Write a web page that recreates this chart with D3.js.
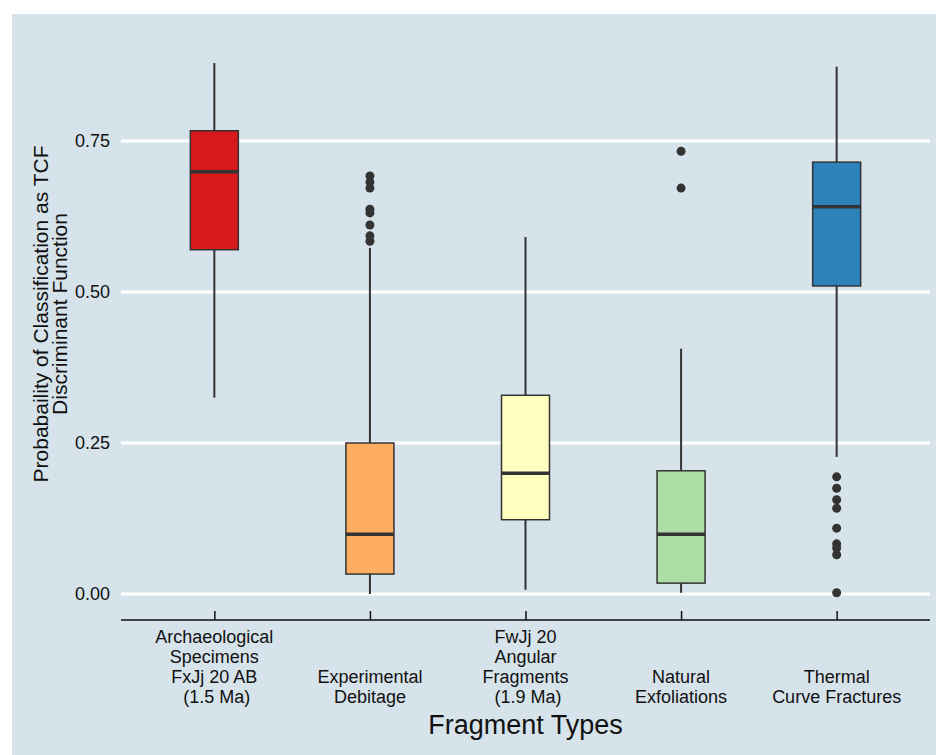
<!DOCTYPE html>
<html>
<head>
<meta charset="utf-8">
<script src="https://cdn.jsdelivr.net/npm/d3@7"></script>
<style>
  body { margin: 0; background: #fff; }
  text { font-family: "Liberation Sans", Arial, sans-serif; }
</style>
</head>
<body>
<div id="chart"></div>
<script>
'use strict';

const categories = ["arch", "exp", "fwjj", "nat", "tcf"];
const labelLines = [
    ["Archaeological", "Specimens", "FxJj 20 AB", " (1.5 Ma)"],
    ["Experimental", "Debitage"],
    ["FwJj 20", "Angular", "Fragments", " (1.9 Ma)"],
    ["Natural", "Exfoliations"],
    ["Thermal", "Curve Fractures"]
];
const colors = ["#d7191c", "#fdae61", "#ffffbf", "#abdda4", "#2b83ba"];

// box stats
const whiskerLow = [0.325, 0.0, 0.007, 0.002, 0.227];
const q1 = [0.570, 0.033, 0.123, 0.018, 0.510];
const median = [0.699, 0.099, 0.200, 0.099, 0.641];
const q3 = [0.767, 0.250, 0.329, 0.204, 0.715];
const whiskerHigh = [0.879, 0.573, 0.591, 0.406, 0.873];

const outliers = [
    [],
    [0.692, 0.682, 0.672, 0.637, 0.631, 0.611, 0.593, 0.584],
    [],
    [0.733, 0.672],
    [0.194, 0.175, 0.156, 0.142, 0.109, 0.083, 0.076, 0.065, 0.002]
];

const yTicks = [0, 0.25, 0.5, 0.75];

const width = 936;
const height = 755;
const plot = { left: 121, right: 930, axisY: 620 };

const svg = d3.select("#chart")
    .append("svg")
    .attr("width", width)
    .attr("height", height);

svg.append("rect")
    .attr("x", 12).attr("y", 14)
    .attr("width", width - 12).attr("height", height - 14)
    .attr("fill", "#d6e3ea");

const x = d3.scalePoint()
    .domain(categories)
    .range([plot.left, plot.right])
    .padding(0.6);

const y = d3.scaleLinear()
    .domain([0, 0.75])
    .range([594, 141]);

// grid lines
svg.append("g")
    .selectAll("line")
    .data(yTicks)
    .join("line")
    .attr("x1", plot.left).attr("x2", plot.right)
    .attr("y1", d => y(d)).attr("y2", d => y(d))
    .attr("stroke", "#fff")
    .attr("stroke-width", 3);

// y tick labels
svg.append("g")
    .selectAll("text")
    .data(yTicks)
    .join("text")
    .attr("x", 110)
    .attr("y", d => y(d))
    .attr("dy", "0.35em")
    .attr("text-anchor", "end")
    .attr("font-size", 18)
    .attr("fill", "#111")
    .text(d => d3.format(".2f")(d));

// y title
const yTitle = svg.append("text")
    .attr("transform", "translate(0,314) rotate(-90)")
    .attr("text-anchor", "middle")
    .attr("font-size", 21)
    .attr("fill", "#111");
yTitle.append("tspan").attr("x", 0).attr("y", 48).text("Probabaility of Classification as TCF");
yTitle.append("tspan").attr("x", 0).attr("y", 67).text("Discriminant Function");

// x axis
const xAxis = svg.append("g")
    .attr("transform", `translate(0,${plot.axisY})`)
    .call(d3.axisBottom(x).tickSize(-9).tickFormat(""));
xAxis.select(".domain")
    .attr("d", `M${plot.left},0H${plot.right}`)
    .attr("stroke", "#111")
    .attr("stroke-width", 1.5);
xAxis.selectAll(".tick line").attr("stroke", "#111").attr("stroke-width", 1.5);

// category labels (bottom aligned)
const catLabels = svg.append("g")
    .selectAll("text")
    .data(categories)
    .join("text")
    .attr("text-anchor", "middle")
    .attr("font-size", 18)
    .attr("fill", "#111")
    .style("white-space", "pre");
catLabels.each(function (d, i) {
    const lines = labelLines[i];
    const sel = d3.select(this);
    lines.forEach((line, j) => {
        sel.append("tspan")
            .attr("x", x(d))
            .attr("y", 703 - (lines.length - 1 - j) * 20)
            .text(line);
    });
});

svg.append("text")
    .attr("x", (plot.left + plot.right) / 2)
    .attr("y", 734)
    .attr("text-anchor", "middle")
    .attr("font-size", 27)
    .attr("fill", "#111")
    .text("Fragment Types");

// boxes
const boxW = 48;
const stroke = "#333";
const boxes = svg.append("g")
    .selectAll("g")
    .data(categories)
    .join("g");

boxes.append("line")
    .attr("x1", d => x(d)).attr("x2", d => x(d))
    .attr("y1", (d, i) => y(whiskerHigh[i])).attr("y2", (d, i) => y(q3[i]))
    .attr("stroke", stroke).attr("stroke-width", 2);
boxes.append("line")
    .attr("x1", d => x(d)).attr("x2", d => x(d))
    .attr("y1", (d, i) => y(q1[i])).attr("y2", (d, i) => y(whiskerLow[i]))
    .attr("stroke", stroke).attr("stroke-width", 2);
boxes.append("rect")
    .attr("x", d => x(d) - boxW / 2)
    .attr("y", (d, i) => y(q3[i]))
    .attr("width", boxW)
    .attr("height", (d, i) => y(q1[i]) - y(q3[i]))
    .attr("fill", (d, i) => colors[i])
    .attr("stroke", stroke).attr("stroke-width", 1.5);
boxes.append("line")
    .attr("x1", d => x(d) - boxW / 2).attr("x2", d => x(d) + boxW / 2)
    .attr("y1", (d, i) => y(median[i])).attr("y2", (d, i) => y(median[i]))
    .attr("stroke", stroke).attr("stroke-width", 3.5);

boxes.each(function (d, i) {
    d3.select(this).selectAll("circle")
        .data(outliers[i])
        .join("circle")
        .attr("cx", x(d))
        .attr("cy", v => y(v))
        .attr("r", 4.5)
        .attr("fill", stroke);
});
</script>
</body>
</html>
